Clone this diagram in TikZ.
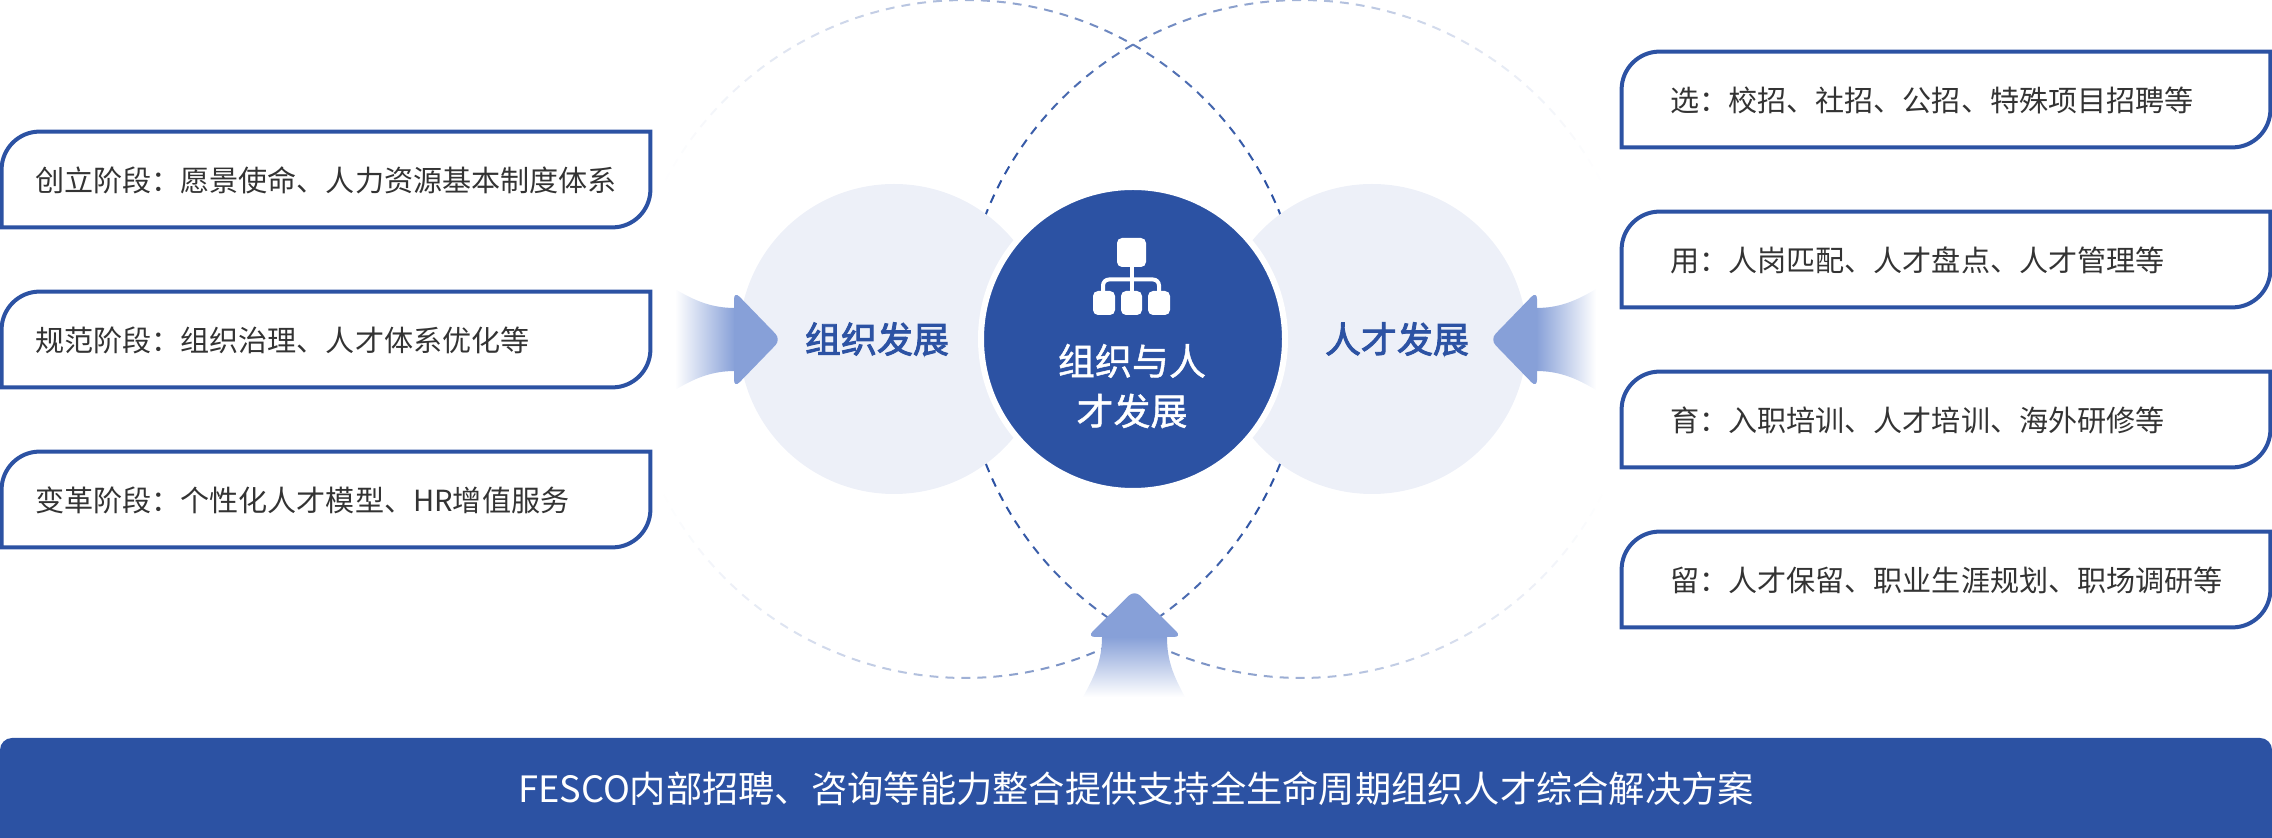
\documentclass[tikz,border=0pt]{standalone}
\usepackage{fontspec}
\setmainfont{Noto Sans CJK SC}
\newfontfamily\midfont[FakeBold=2.5]{Noto Sans CJK SC}
\newfontfamily\hubfont[FakeBold=1.2]{Noto Sans CJK SC}
\definecolor{mainblue}{RGB}{44, 82, 163}
\definecolor{softblue}{RGB}{237, 240, 248}
\definecolor{headblue}{RGB}{135, 160, 216}
\definecolor{textgray}{RGB}{51, 51, 51}
\tikzset{
	tagbox/.style={rectangle, inner sep=0pt, inner xsep=17.5pt, text width=291pt, minimum height=49.5pt, text height=14pt, text depth=2pt, align=left, text=textgray, font=\fontsize{14.55}{18}\selectfont},
	steptag/.style={tagbox, inner xsep=25pt, text width=276pt},
	tagline/.style={draw=mainblue, line width=2pt},
	softcircle/.style={circle, inner sep=0pt, minimum size=155pt, fill=softblue},
	hubcircle/.style={circle, inner sep=0pt, minimum size=152pt, fill=mainblue, draw=white, line width=3pt},
	hubtext/.style={align=center, text=white, font=\fontsize{18.5}{25}\hubfont\selectfont},
	sidetext/.style={text=mainblue, font=\fontsize{18}{20}\midfont\selectfont},
	iconbox/.style={fill=white, rounded corners=2.5pt},
	iconline/.style={draw=white, line width=2pt, rounded corners=3pt},
	footbar/.style={rectangle, inner sep=0pt, minimum width=1136pt, minimum height=50pt, text=white, font=\fontsize{18.13}{22}\selectfont},
}
\begin{document}
\begin{tikzpicture}[x=0.5pt, y=-0.5pt]
	\useasboundingbox (0,0) rectangle (2272,838);
	% dashed circles
	\foreach \a in {0,2.7,...,357.4} {
		\pgfmathsetmacro\xa{965+339*cos(\a)}
		\pgfmathsetmacro\shade{min(100,100*pow(max(0.001,(\xa-660)/606),1.2))}
		\draw[draw=mainblue!\shade!white, line width=1pt] (\xa,{339+339*sin(\a)}) -- ({965+339*cos(\a+1.5)},{339+339*sin(\a+1.5)});
		\draw[draw=mainblue!\shade!white, line width=1pt] ({2266-\xa},{339+339*sin(\a)}) -- ({2266-965-339*cos(\a+1.5)},{339+339*sin(\a+1.5)});
	}
	\node[softcircle] (orgcircle) at (894,339) {};
	\node[softcircle] (talentcircle) at (1372,339) {};
	% arrows
	\shade[left color=white, right color=headblue] (675,289) .. controls (695,301) and (712,308) .. (735,308) -- (735,371) .. controls (712,371) and (695,378) .. (675,390) -- cycle;
	\fill[headblue, rounded corners=4pt] (734,291) -- (781,339.5) -- (734,388) -- cycle;
	\shade[right color=white, left color=headblue] (1596,289) .. controls (1576,301) and (1559,308) .. (1536,308) -- (1536,371) .. controls (1559,371) and (1576,378) .. (1596,390) -- cycle;
	\fill[headblue, rounded corners=4pt] (1537,291) -- (1490,339.5) -- (1537,388) -- cycle;
	\shade[top color=headblue, bottom color=white] (1102,637) .. controls (1102,660) and (1095,675) .. (1083,697) -- (1185,697) .. controls (1173,675) and (1167,660) .. (1167,637) -- cycle;
	\fill[headblue, rounded corners=4pt] (1134.5,590) -- (1087,637) -- (1182,637) -- cycle;
	% center
	\node[hubcircle] (hub) at (1133,339) {};
	\node[hubtext] (hubtitle) at (1132,386) {组织与人\\才发展};
	\node[sidetext] (orgtitle) at (877,339) {组织发展};
	\node[sidetext] (talenttitle) at (1397,339) {人才发展};
	% icon
	\draw[iconline] (1103,291) -- (1103,279.5) -- (1159,279.5) -- (1159,291);
	\draw[iconline] (1131.5,267) -- (1131.5,291);
	\fill[iconbox] (1117,238) rectangle (1146,267);
	\fill[iconbox] (1093,291) rectangle (1115,315);
	\fill[iconbox] (1121,291) rectangle (1142,315);
	\fill[iconbox] (1148,291) rectangle (1170,315);
	% left tags
	\node[tagbox] (stageA) at (326,179.5) {创立阶段：愿景使命、人力资源基本制度体系};
	\node[tagbox] (stageB) at (326,339.5) {规范阶段：组织治理、人才体系优化等};
	\node[tagbox] (stageC) at (326,499.5) {变革阶段：个性化人才模型、HR增值服务};
	% right tags
	\node[steptag] (stepA) at (1946,99.5) {选：校招、社招、公招、特殊项目招聘等};
	\node[steptag] (stepB) at (1946,259.5) {用：人岗匹配、人才盘点、人才管理等};
	\node[steptag] (stepC) at (1946,419.5) {育：入职培训、人才培训、海外研修等};
	\node[steptag] (stepD) at (1946,579.5) {留：人才保留、职业生涯规划、职场调研等};
	\foreach \b in {stageA,stageB,stageC,stepA,stepB,stepC,stepD} {
		\draw[tagline] ([shift={(1pt,1pt)}]\b.south west) [rounded corners=19pt] -- ([shift={(1pt,-1pt)}]\b.north west) [sharp corners] -- ([shift={(-1pt,-1pt)}]\b.north east) [rounded corners=19pt] -- ([shift={(-1pt,1pt)}]\b.south east) [sharp corners] -- cycle;
	}
	% bottom bar
	\fill[mainblue, rounded corners=6pt] (0,738) rectangle (2272,860);
	\node[footbar] (footer) at (1136,789) {FESCO内部招聘、咨询等能力整合提供支持全生命周期组织人才综合解决方案};
\end{tikzpicture}
\end{document}
